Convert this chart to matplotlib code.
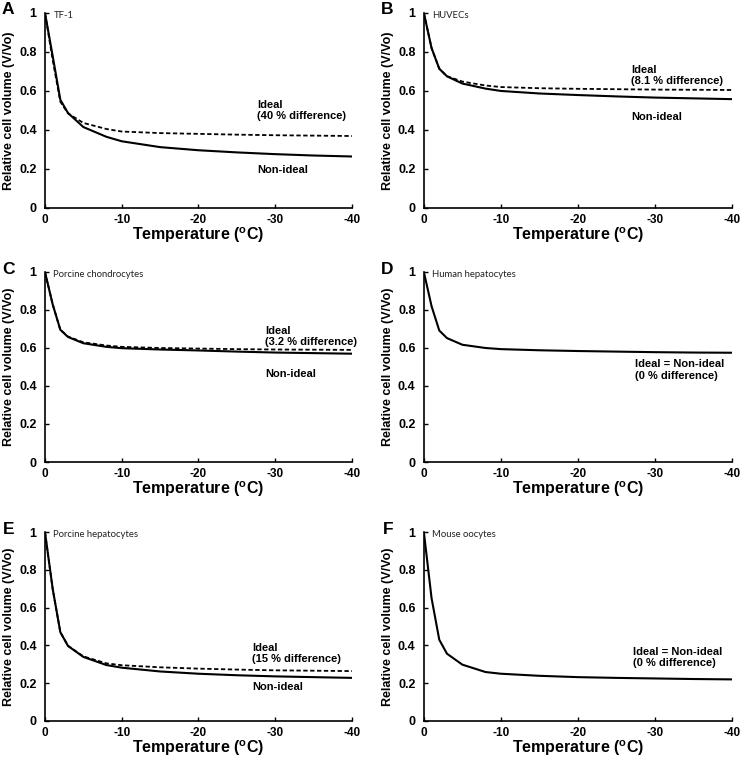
import matplotlib
matplotlib.use("Agg")
import matplotlib.pyplot as plt

plt.rcParams['font.family'] = ['Liberation Sans', 'DejaVu Sans']
plt.rcParams['axes.unicode_minus'] = False
plt.rcParams['mathtext.fontset'] = 'custom'
plt.rcParams['mathtext.rm'] = 'Liberation Sans:bold'
plt.rcParams['mathtext.bf'] = 'Liberation Sans:bold'

# temperature points (deg C)
temps = [0, -1, -2, -3, -5, -8, -10, -15, -20, -25, -30, -35, -40]

# relative cell volume V/Vo
a_nonideal = [1.0, 0.78, 0.555, 0.487, 0.415, 0.365, 0.342, 0.312, 0.296, 0.285, 0.276, 0.269, 0.264]
a_ideal = [1.0, 0.76, 0.545, 0.485, 0.436, 0.405, 0.392, 0.384, 0.380, 0.376, 0.373, 0.371, 0.369]
b_nonideal = [1.0, 0.82, 0.714, 0.675, 0.638, 0.612, 0.600, 0.587, 0.579, 0.572, 0.566, 0.562, 0.558]
b_ideal = [1.0, 0.82, 0.714, 0.676, 0.648, 0.628, 0.620, 0.614, 0.611, 0.609, 0.607, 0.606, 0.605]
c_nonideal = [1.0, 0.83, 0.696, 0.658, 0.625, 0.606, 0.599, 0.592, 0.587, 0.581, 0.576, 0.573, 0.570]
c_ideal = [1.0, 0.83, 0.696, 0.660, 0.630, 0.613, 0.606, 0.600, 0.597, 0.594, 0.592, 0.591, 0.590]
d_both = [1.0, 0.82, 0.692, 0.652, 0.617, 0.600, 0.594, 0.588, 0.584, 0.581, 0.578, 0.576, 0.575]
e_nonideal = [1.0, 0.70, 0.470, 0.397, 0.339, 0.296, 0.282, 0.262, 0.250, 0.242, 0.236, 0.232, 0.228]
e_ideal = [1.0, 0.70, 0.470, 0.398, 0.342, 0.305, 0.295, 0.284, 0.277, 0.272, 0.268, 0.266, 0.264]
f_both = [1.0, 0.65, 0.430, 0.356, 0.298, 0.259, 0.250, 0.239, 0.232, 0.228, 0.225, 0.222, 0.220]

panel_letters = ['A', 'B', 'C', 'D', 'E', 'F']
cell_types = ['TF-1', 'HUVECs', 'Porcine chondrocytes', 'Human hepatocytes',
              'Porcine hepatocytes', 'Mouse oocytes']
ideal_series = [a_ideal, b_ideal, c_ideal, None, e_ideal, None]
nonideal_series = [a_nonideal, b_nonideal, c_nonideal, d_both, e_nonideal, f_both]
notes = ['Ideal\n(40 % difference)', 'Ideal\n(8.1 % difference)', 'Ideal\n(3.2 % difference)',
         'Ideal = Non-ideal\n(0 % difference)', 'Ideal\n(15 % difference)',
         'Ideal = Non-ideal\n(0 % difference)']
note_pos = [(-27.6, 0.555), (-26.9, 0.735), (-28.7, 0.715), (-27.4, 0.54), (-27.0, 0.415), (-27.2, 0.39)]
nonideal_pos = [(-27.6, 0.195), (-26.9, 0.465), (-28.7, 0.465), None, (-27.0, 0.18), None]

fig = plt.figure(figsize=(7.41, 7.61), dpi=100)

lefts = [0.0607, 0.572]
width_l, width_r = 0.4143, 0.416
rows = [(0.7267, 0.983), (0.3929, 0.6426), (0.0526, 0.3009)]

for i in range(6):
    r, c = divmod(i, 2)
    bottom, top = rows[r]
    w = width_l if c == 0 else width_r
    ax = fig.add_axes([lefts[c], bottom, w, top - bottom])

    ax.plot(temps, nonideal_series[i], color='black', lw=1.5, zorder=3)
    if ideal_series[i] is not None:
        ax.plot(temps, ideal_series[i], color='black', lw=1.3, ls=(0, (2.4, 1.4)), zorder=2)

    ax.set_xlim(0, -40)
    ax.set_ylim(0, 1)
    ax.set_xticks([0, -10, -20, -30, -40])
    ax.set_xticklabels(['0', '-10', '-20', '-30', '-40'], fontsize=8.5, fontweight='bold')
    ax.set_yticks([0, 0.2, 0.4, 0.6, 0.8, 1.0])
    ax.set_yticklabels(['0', '0.2', '0.4', '0.6', '0.8', '1'], fontsize=9, fontweight='bold')
    ax.tick_params(axis='both', direction='in', length=3, width=1.0)
    ax.tick_params(axis='y', pad=6)
    ax.tick_params(axis='x', pad=4)

    ax.spines['top'].set_visible(False)
    ax.spines['right'].set_visible(False)
    ax.spines['left'].set_linewidth(1.2)
    ax.spines['bottom'].set_linewidth(1.2)

    ax.set_xlabel(r'Temperature ($^{\mathbf{o}}$C)', fontsize=11.5, fontweight='bold', labelpad=0)
    ax.set_ylabel('Relative cell volume (V/Vo)', fontsize=9, fontweight='bold', labelpad=3)

    ax.text(-1.1, 1.01, cell_types[i], fontsize=6.8, family='Lato', color='#222222',
            va='top', ha='left')

    nx, ny = note_pos[i]
    ax.text(nx, ny, notes[i], fontsize=8, fontweight='bold', va='top', ha='left', linespacing=1.15)
    if nonideal_pos[i] is not None:
        px, py = nonideal_pos[i]
        ax.text(px, py, 'Non-ideal', fontsize=8, fontweight='bold', va='center', ha='left')

    ax.text(-0.10, 1.055, panel_letters[i], transform=ax.transAxes, fontsize=12.5,
            fontweight='bold', va='top', ha='right')

fig.savefig('out.png', dpi=100)
